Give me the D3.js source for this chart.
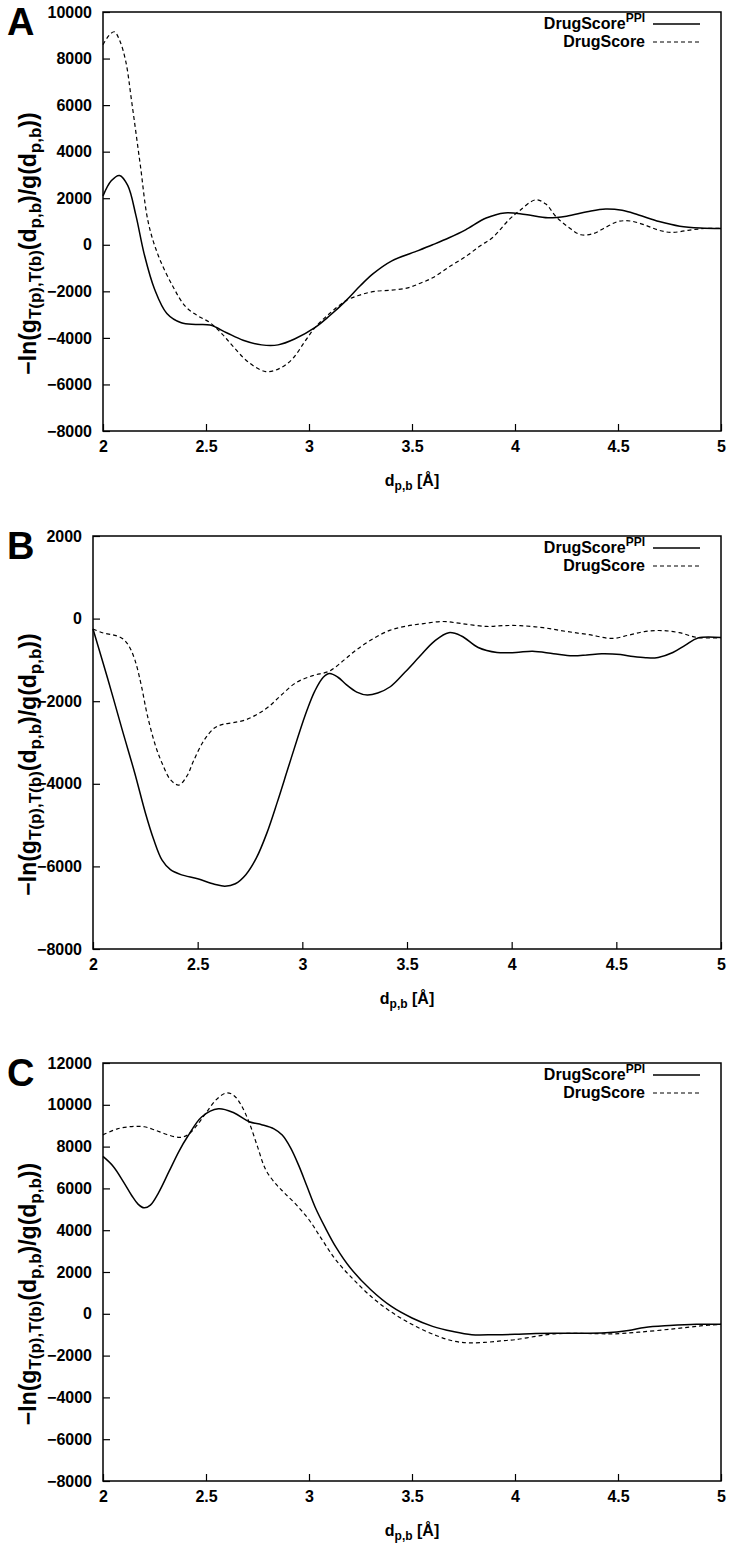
<!DOCTYPE html>
<html>
<head>
    <title>DrugScore PPI potentials</title>
    <style>
        body { margin: 0; background: #fff; }
        svg { font-family: 'Liberation Sans', Arial, sans-serif; }
        .tick text { font-size: 16px; font-weight: bold; fill: #000; }
        .tick line { stroke: #000; stroke-width: 1.2; }
    </style>
</head>
<body>
    <div id="chart"></div>

    <script src="https://d3js.org/d3.v7.min.js"></script>

    <script>
        // panel A
        const aPpiX = [2.00, 2.04, 2.08, 2.12, 2.16, 2.20, 2.25, 2.31, 2.38, 2.45, 2.52, 2.60, 2.68, 2.77, 2.85, 2.93, 3.03, 3.10, 3.18, 3.25, 3.31, 3.40, 3.53, 3.60, 3.68, 3.76, 3.86, 3.95, 4.05, 4.16, 4.25, 4.35, 4.44, 4.52, 4.60, 4.70, 4.80, 4.90, 5.00];
        const aPpiY = [2100, 2750, 2980, 2550, 1250, -400, -1900, -2950, -3350, -3420, -3450, -3780, -4100, -4300, -4300, -4050, -3550, -3050, -2400, -1750, -1250, -700, -250, 0, 300, 640, 1150, 1370, 1300, 1160, 1230, 1420, 1540, 1480, 1280, 1000, 800, 720, 700];
        const aDsX = [2.00, 2.03, 2.055, 2.08, 2.11, 2.14, 2.18, 2.22, 2.27, 2.34, 2.40, 2.46, 2.52, 2.58, 2.63, 2.70, 2.79, 2.86, 2.92, 2.98, 3.03, 3.10, 3.18, 3.25, 3.32, 3.40, 3.48, 3.54, 3.60, 3.68, 3.76, 3.83, 3.89, 3.97, 4.02, 4.10, 4.15, 4.20, 4.26, 4.32, 4.38, 4.44, 4.50, 4.56, 4.63, 4.70, 4.76, 4.84, 4.92, 5.00];
        const aDsY = [8600, 9000, 9150, 8800, 7900, 6100, 3500, 950, -500, -1800, -2650, -3050, -3350, -3850, -4350, -5000, -5450, -5300, -4900, -4150, -3550, -2950, -2400, -2150, -2000, -1950, -1850, -1650, -1420, -950, -510, -50, 300, 1070, 1450, 1930, 1750, 1200, 750, 430, 480, 750, 1000, 1020, 850, 620, 530, 620, 700, 700];

        // panel B
        const bPpiX = [2.00, 2.07, 2.14, 2.20, 2.25, 2.29, 2.33, 2.37, 2.42, 2.50, 2.58, 2.63, 2.68, 2.73, 2.78, 2.83, 2.88, 2.93, 2.98, 3.02, 3.06, 3.10, 3.13, 3.17, 3.21, 3.26, 3.31, 3.36, 3.42, 3.49, 3.56, 3.63, 3.70, 3.76, 3.84, 3.93, 4.02, 4.10, 4.20, 4.29, 4.36, 4.43, 4.52, 4.58, 4.64, 4.70, 4.77, 4.83, 4.89, 5.00];
        const bPpiY = [-250, -1450, -2700, -3750, -4700, -5350, -5850, -6080, -6200, -6300, -6430, -6480, -6420, -6200, -5800, -5200, -4450, -3650, -2850, -2250, -1750, -1420, -1330, -1420, -1600, -1780, -1850, -1800, -1650, -1300, -920, -550, -340, -420, -700, -820, -820, -790, -850, -900, -880, -850, -870, -920, -950, -940, -820, -640, -470, -460];
        const bDsX = [2.00, 2.05, 2.10, 2.14, 2.17, 2.20, 2.23, 2.26, 2.30, 2.33, 2.37, 2.41, 2.45, 2.48, 2.53, 2.58, 2.62, 2.67, 2.73, 2.79, 2.84, 2.90, 2.97, 3.05, 3.13, 3.20, 3.26, 3.34, 3.42, 3.50, 3.58, 3.67, 3.76, 3.88, 3.96, 4.04, 4.15, 4.26, 4.37, 4.48, 4.56, 4.64, 4.72, 4.80, 4.89, 5.00];
        const bDsY = [-250, -350, -400, -480, -650, -1000, -1600, -2350, -3100, -3500, -3900, -4030, -3800, -3450, -2950, -2650, -2560, -2520, -2450, -2300, -2130, -1850, -1550, -1380, -1270, -1000, -750, -480, -280, -180, -120, -70, -120, -190, -170, -170, -220, -310, -390, -480, -400, -310, -290, -340, -460, -460];

        // panel C
        const cPpiX = [2.00, 2.05, 2.10, 2.14, 2.17, 2.20, 2.23, 2.27, 2.32, 2.37, 2.41, 2.48, 2.56, 2.635, 2.71, 2.77, 2.83, 2.87, 2.91, 2.95, 2.99, 3.03, 3.08, 3.13, 3.20, 3.30, 3.40, 3.50, 3.60, 3.70, 3.79, 3.90, 4.00, 4.10, 4.25, 4.44, 4.55, 4.63, 4.75, 4.88, 5.00];
        const cPpiY = [7530, 7050, 6300, 5650, 5250, 5070, 5200, 5800, 6800, 7800, 8470, 9430, 9810, 9620, 9190, 9050, 8850, 8550, 7950, 7100, 6100, 5100, 4100, 3200, 2200, 1150, 350, -200, -600, -850, -1000, -1000, -980, -940, -930, -910, -800, -650, -560, -500, -500];
        const cDsX = [2.00, 2.07, 2.14, 2.20, 2.25, 2.31, 2.37, 2.40, 2.43, 2.47, 2.505, 2.55, 2.60, 2.635, 2.67, 2.71, 2.75, 2.79, 2.84, 2.88, 2.94, 3.00, 3.06, 3.13, 3.22, 3.32, 3.42, 3.52, 3.62, 3.70, 3.77, 3.85, 3.93, 4.00, 4.10, 4.19, 4.30, 4.40, 4.48, 4.60, 4.77, 4.90, 5.00];
        const cDsY = [8560, 8850, 8960, 8950, 8800, 8580, 8440, 8500, 8720, 9200, 9680, 10250, 10570, 10450, 10000, 9140, 8000, 6890, 6200, 5790, 5200, 4500, 3600, 2580, 1600, 670, -50, -610, -1050, -1300, -1390, -1370, -1300, -1240, -1080, -960, -940, -950, -960, -880, -720, -580, -500];

        const xTicks = [2, 2.5, 3, 3.5, 4, 4.5, 5];
        const legendNames = ["DrugScore", "DrugScore"];

        const [width, height] = [734, 1558];

        const panels = [
            {letter: "A", left: 103, right: 721, top: 12, bottom: 431, ymin: -8000, ymax: 10000,
             ppi: [aPpiX, aPpiY], ds: [aDsX, aDsY]},
            {letter: "B", left: 93, right: 721, top: 536, bottom: 949, ymin: -8000, ymax: 2000,
             ppi: [bPpiX, bPpiY], ds: [bDsX, bDsY]},
            {letter: "C", left: 103, right: 721, top: 1063, bottom: 1481, ymin: -8000, ymax: 12000,
             ppi: [cPpiX, cPpiY], ds: [cDsX, cDsY]}
        ];

        const svg = d3.select("#chart")
                        .append("svg")
                        .attr("width", width)
                        .attr("height", height);

        panels.forEach(p => {
            const x = d3.scaleLinear().domain([2, 5]).range([p.left, p.right]);
            const y = d3.scaleLinear().domain([p.ymin, p.ymax]).range([p.bottom, p.top]);

            const g = svg.append("g");

            // axes, ticks pointing inward
            g.append("g")
                .attr("transform", `translate(0, ${p.bottom})`)
                .call(d3.axisBottom(x).tickValues(xTicks).tickFormat(d3.format("")).tickSize(-7).tickPadding(10))
                .call(a => a.select(".domain").remove());

            g.append("g")
                .attr("transform", `translate(${p.left}, 0)`)
                .call(d3.axisLeft(y).ticks((p.ymax - p.ymin) / 2000).tickFormat(d3.format("d")).tickSize(-7).tickPadding(11))
                .call(a => a.select(".domain").remove());

            // border
            g.append("rect")
                .attr("x", p.left)
                .attr("y", p.top)
                .attr("width", p.right - p.left)
                .attr("height", p.bottom - p.top)
                .attr("fill", "none")
                .attr("stroke", "#000")
                .attr("stroke-width", 1.5);

            // curves
            const line = d3.line()
                .x(d => x(d[0]))
                .y(d => y(d[1]))
                .curve(d3.curveCatmullRom.alpha(0.5));

            const ppiData = p.ppi[0].map((v, i) => [v, p.ppi[1][i]]);
            const dsData = p.ds[0].map((v, i) => [v, p.ds[1][i]]);

            g.append("path")
                .datum(dsData)
                .attr("d", line)
                .attr("fill", "none")
                .attr("stroke", "#000")
                .attr("stroke-width", 1.2)
                .attr("stroke-dasharray", "4,3");

            g.append("path")
                .datum(ppiData)
                .attr("d", line)
                .attr("fill", "none")
                .attr("stroke", "#000")
                .attr("stroke-width", 1.5);

            // legend
            const l1 = g.append("text")
                .attr("x", 645)
                .attr("y", p.top + 17)
                .attr("text-anchor", "end")
                .attr("font-size", 16)
                .attr("font-weight", "bold");
            l1.append("tspan").text(legendNames[0]);
            l1.append("tspan").attr("font-size", 12).attr("dy", -7).text("PPI");

            g.append("text")
                .attr("x", 645)
                .attr("y", p.top + 35)
                .attr("text-anchor", "end")
                .attr("font-size", 16)
                .attr("font-weight", "bold")
                .text(legendNames[1]);

            g.append("line")
                .attr("x1", 653).attr("x2", 700)
                .attr("y1", p.top + 12).attr("y2", p.top + 12)
                .attr("stroke", "#000").attr("stroke-width", 1.5);

            g.append("line")
                .attr("x1", 653).attr("x2", 700)
                .attr("y1", p.top + 30).attr("y2", p.top + 30)
                .attr("stroke", "#000").attr("stroke-width", 1.2)
                .attr("stroke-dasharray", "4,3");

            // x label
            const xl = g.append("text")
                .attr("x", (p.left + p.right) / 2)
                .attr("y", p.bottom + 55)
                .attr("text-anchor", "middle")
                .attr("font-size", 16)
                .attr("font-weight", "bold");
            xl.append("tspan").text("d");
            xl.append("tspan").attr("font-size", 12).attr("dy", 4).text("p,b");
            xl.append("tspan").attr("dy", -4).text(" [Å]");

            // y label
            const yc = (p.top + p.bottom) / 2 + 22;
            const yl = g.append("text")
                .attr("transform", `translate(36, ${yc}) rotate(-90)`)
                .attr("text-anchor", "middle")
                .attr("font-size", 23)
                .attr("font-weight", "bold");
            yl.append("tspan").text("−ln(g");
            yl.append("tspan").attr("font-size", 17).attr("dy", 5).text("T(p),T(b)");
            yl.append("tspan").attr("dy", -5).text("(d");
            yl.append("tspan").attr("font-size", 17).attr("dy", 5).text("p,b");
            yl.append("tspan").attr("dy", -5).text(")/g(d");
            yl.append("tspan").attr("font-size", 17).attr("dy", 5).text("p,b");
            yl.append("tspan").attr("dy", -5).text("))");

            // panel letter
            g.append("text")
                .attr("x", 7)
                .attr("y", p.top + 23)
                .attr("font-size", 38)
                .attr("font-weight", "bold")
                .text(p.letter);
        });
    </script>
</body>
</html>
